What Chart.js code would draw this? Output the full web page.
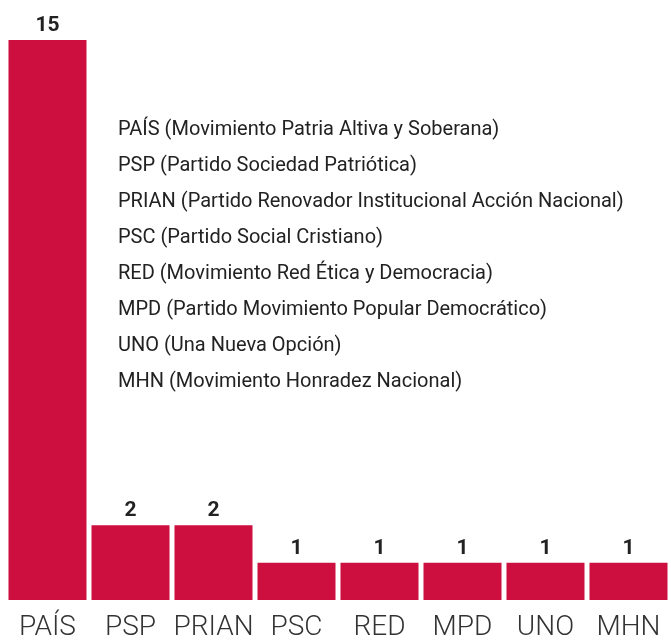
<!DOCTYPE html>
<html>
<head>
<meta charset="utf-8">
<script src="https://cdn.jsdelivr.net/npm/chart.js@4"></script>
<style>
  body { margin: 0; background: #fff; }
  #wrap { position: relative; width: 671px; height: 641px; }
  #names {
    position: absolute; left: 118px; top: 110px;
    font-family: Roboto, sans-serif; font-size: 20px; color: #222;
    line-height: 36px; margin: 0; padding: 0; list-style: none;
  }
</style>
</head>
<body>
<div id="wrap">
  <canvas id="chart" width="671" height="641"></canvas>
  <ul id="names"></ul>
</div>
<script>
// parties and seats
const parties = ["PAÍS", "PSP", "PRIAN", "PSC", "RED", "MPD", "UNO", "MHN"];
const seats = [15, 2, 2, 1, 1, 1, 1, 1];
const fullNames = [
  "PAÍS (Movimiento Patria Altiva y Soberana)",
  "PSP (Partido Sociedad Patriótica)",
  "PRIAN (Partido Renovador Institucional Acción Nacional)",
  "PSC (Partido Social Cristiano)",
  "RED (Movimiento Red Ética y Democracia)",
  "MPD (Partido Movimiento Popular Democrático)",
  "UNO (Una Nueva Opción)",
  "MHN (Movimiento Honradez Nacional)",
];

const list = document.getElementById("names");
fullNames.forEach((n) => {
  const li = document.createElement("li");
  li.textContent = n;
  list.appendChild(li);
});

// draw the number over each bar
const valueLabels = {
  id: "valueLabels",
  afterDatasetsDraw(chart) {
    const ctx = chart.ctx;
    const meta = chart.getDatasetMeta(0);
    ctx.save();
    ctx.font = "bold 21px Roboto, sans-serif";
    ctx.fillStyle = "#222";
    ctx.textAlign = "center";
    ctx.textBaseline = "alphabetic";
    meta.data.forEach((bar, i) => {
      ctx.fillText(String(seats[i]), bar.x, bar.y - 9);
    });
    ctx.restore();
  },
};

new Chart(document.getElementById("chart"), {
  type: "bar",
  data: {
    labels: parties,
    datasets: [
      {
        data: seats,
        backgroundColor: "#cd0f40",
        barPercentage: 0.94,
        categoryPercentage: 1,
      },
    ],
  },
  options: {
    responsive: false,
    animation: false,
    layout: { padding: { top: 40, left: 6, right: 1, bottom: 0 } },
    plugins: { legend: { display: false }, tooltip: { enabled: false } },
    scales: {
      x: {
        grid: { display: false, drawTicks: false },
        border: { display: false },
        ticks: {
          color: "#333",
          font: { family: "Roboto", size: 28, weight: "300", lineHeight: 1 },
          padding: 14,
          maxRotation: 0,
          autoSkip: false,
        },
        afterFit(scale) {
          scale.height = 41;
          scale.paddingLeft = 0;
          scale.paddingRight = 0;
        },
      },
      y: { display: false, min: 0, max: 15 },
    },
  },
  plugins: [valueLabels],
});
</script>
</body>
</html>
